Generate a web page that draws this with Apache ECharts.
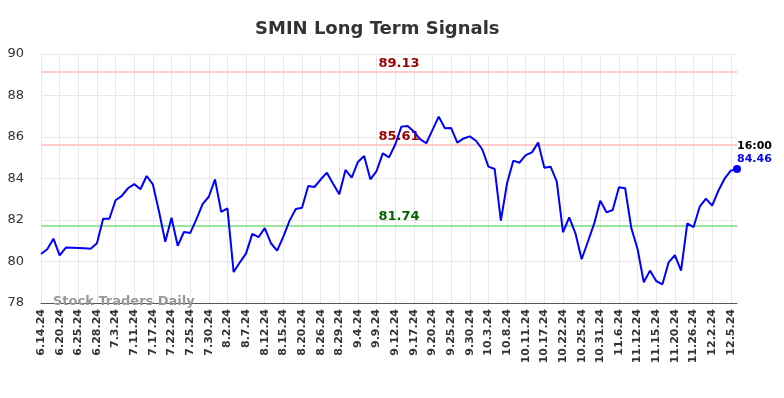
<!DOCTYPE html>
<html>
<head>
<meta charset="utf-8">
<title>SMIN Long Term Signals</title>
<script src="https://cdn.jsdelivr.net/npm/echarts@6/dist/echarts.min.js"></script>
<style>
  html, body { margin: 0; padding: 0; background: #fff; }
  #chart { width: 784px; height: 398px; }
</style>
</head>
<body>
<div id="chart"></div>
<script>
// 日期（每隔两个显示一个标签）
var dates = ['6.14.24','6.17.24','6.18.24','6.20.24','6.21.24','6.24.24','6.25.24','6.26.24','6.27.24','6.28.24',
  '7.1.24','7.2.24','7.3.24','7.8.24','7.10.24','7.11.24','7.12.24','7.16.24','7.17.24','7.18.24','7.19.24',
  '7.22.24','7.23.24','7.24.24','7.25.24','7.26.24','7.29.24','7.30.24','7.31.24','8.1.24','8.2.24','8.5.24',
  '8.6.24','8.7.24','8.8.24','8.9.24','8.12.24','8.13.24','8.14.24','8.15.24','8.16.24','8.19.24','8.20.24',
  '8.21.24','8.23.24','8.26.24','8.27.24','8.28.24','8.29.24','8.30.24','9.3.24','9.4.24','9.5.24','9.6.24',
  '9.9.24','9.10.24','9.11.24','9.12.24','9.13.24','9.16.24','9.17.24','9.18.24','9.19.24','9.20.24','9.23.24',
  '9.24.24','9.25.24','9.26.24','9.27.24','9.30.24','10.1.24','10.2.24','10.3.24','10.4.24','10.7.24','10.8.24',
  '10.9.24','10.10.24','10.11.24','10.14.24','10.16.24','10.17.24','10.18.24','10.21.24','10.22.24','10.23.24',
  '10.24.24','10.25.24','10.28.24','10.30.24','10.31.24','11.1.24','11.4.24','11.6.24','11.7.24','11.8.24',
  '11.12.24','11.13.24','11.14.24','11.15.24','11.18.24','11.19.24','11.20.24','11.21.24','11.22.24','11.26.24',
  '11.27.24','11.29.24','12.2.24','12.3.24','12.4.24','12.5.24','12.6.24'];

// 收盘价
var prices = [80.36, 80.59, 81.10, 80.30, 80.67, 80.66, 80.65, 80.64, 80.62, 80.88,
  82.06, 82.06, 82.95, 83.16, 83.53, 83.73, 83.48, 84.12, 83.72, 82.40,
  80.95, 82.11, 80.76, 81.42, 81.37, 82.03, 82.76, 83.12, 83.96, 82.39,
  82.56, 79.49, 79.96, 80.39, 81.33, 81.17, 81.61, 80.88, 80.52, 81.20,
  81.97, 82.53, 82.59, 83.64, 83.59, 83.95, 84.28, 83.75, 83.24, 84.41,
  84.04, 84.80, 85.08, 83.96, 84.36, 85.21, 85.02, 85.64, 86.50, 86.53,
  86.26, 85.90, 85.70, 86.34, 86.98, 86.42, 86.43, 85.73, 85.93, 86.03,
  85.82, 85.41, 84.57, 84.46, 81.97, 83.77, 84.86, 84.76, 85.13, 85.26,
  85.73, 84.52, 84.57, 83.85, 81.41, 82.13, 81.36, 80.11, 80.95, 81.81,
  82.93, 82.37, 82.48, 83.58, 83.53, 81.60, 80.60, 79.00, 79.56, 79.06,
  78.90, 79.96, 80.31, 79.56, 81.84, 81.65, 82.64, 83.03, 82.69, 83.41,
  83.99, 84.38, 84.46];

// 信号线
var resistanceLevels = [89.13, 85.61];
var supportLevels = [81.74];
var lastTime = '16:00';

var chart = echarts.init(document.getElementById('chart'));

var lastIndex = prices.length - 1;
var seriesData = prices.map(function (v, i) {
  if (i !== lastIndex) return v;
  // 最后一个点：圆点 + 时间/价格
  return {
    value: v,
    label: {
      show: true,
      position: [4, -25],
      align: 'left',
      verticalAlign: 'top',
      lineHeight: 13,
      formatter: '{t|' + lastTime + '}\n{p|' + v.toFixed(2) + '}',
      rich: {
        t: { color: '#000', fontWeight: 'bold', fontSize: 11, fontFamily: 'DejaVu Sans', lineHeight: 13 },
        p: { color: '#0000ff', fontWeight: 'bold', fontSize: 11, fontFamily: 'DejaVu Sans', lineHeight: 13 }
      }
    }
  };
});

var markLines = [];
resistanceLevels.forEach(function (v) {
  markLines.push({
    yAxis: v,
    lineStyle: { color: '#ffcccc', width: 2, type: 'solid' },
    label: { color: '#990000' }
  });
});
supportLevels.forEach(function (v) {
  markLines.push({
    yAxis: v,
    lineStyle: { color: '#99e699', width: 2, type: 'solid' },
    label: { color: '#006600' }
  });
});

chart.setOption({
  animation: false,
  title: {
    text: 'SMIN Long Term Signals',
    left: 250,
    top: 15,
    textStyle: { fontFamily: 'DejaVu Sans', fontSize: 18, fontWeight: 'bold', color: '#333' }
  },
  grid: { left: 41, right: 47, top: 54, bottom: 95 },
  graphic: [{
    type: 'text',
    left: 53,
    top: 295,
    z: 10,
    style: { text: 'Stock Traders Daily', fill: '#999', font: 'bold 13px "DejaVu Sans"' }
  }],
  xAxis: {
    type: 'category',
    data: dates,
    boundaryGap: false,
    axisLine: { lineStyle: { color: '#555', width: 1 } },
    axisTick: { show: false },
    axisLabel: {
      interval: function (i) { return i % 3 === 0; },
      rotate: 90,
      margin: 6,
      color: '#333',
      fontSize: 11,
      fontWeight: 'bold',
      fontFamily: 'DejaVu Sans'
    },
    splitLine: { show: true, interval: function (i) { return i % 3 === 0; }, lineStyle: { color: '#e8e8e8', width: 1 } }
  },
  yAxis: {
    type: 'value',
    min: 78,
    max: 90,
    interval: 2,
    axisLine: { show: false },
    axisTick: { show: false },
    axisLabel: { color: '#333', fontSize: 13, margin: 17, fontFamily: 'DejaVu Sans' },
    splitLine: { lineStyle: { color: '#e8e8e8', width: 1 } }
  },
  series: [{
    type: 'line',
    data: seriesData,
    showSymbol: true,
    symbol: 'circle',
    symbolSize: function (v, p) { return p.dataIndex === lastIndex ? 8 : 0; },
    lineStyle: { color: '#0000ff', width: 2 },
    itemStyle: { color: '#0000ff' },
    markLine: {
      silent: true,
      symbol: 'none',
      z: 1,
      label: {
        position: 'insideMiddleTop',
        fontWeight: 'bold',
        fontSize: 13,
        fontFamily: 'DejaVu Sans',
        padding: [0, 0, 0, 20],
        distance: 2,
        formatter: function (p) { return p.value.toFixed(2); }
      },
      data: markLines
    }
  }]
});
</script>
</body>
</html>
